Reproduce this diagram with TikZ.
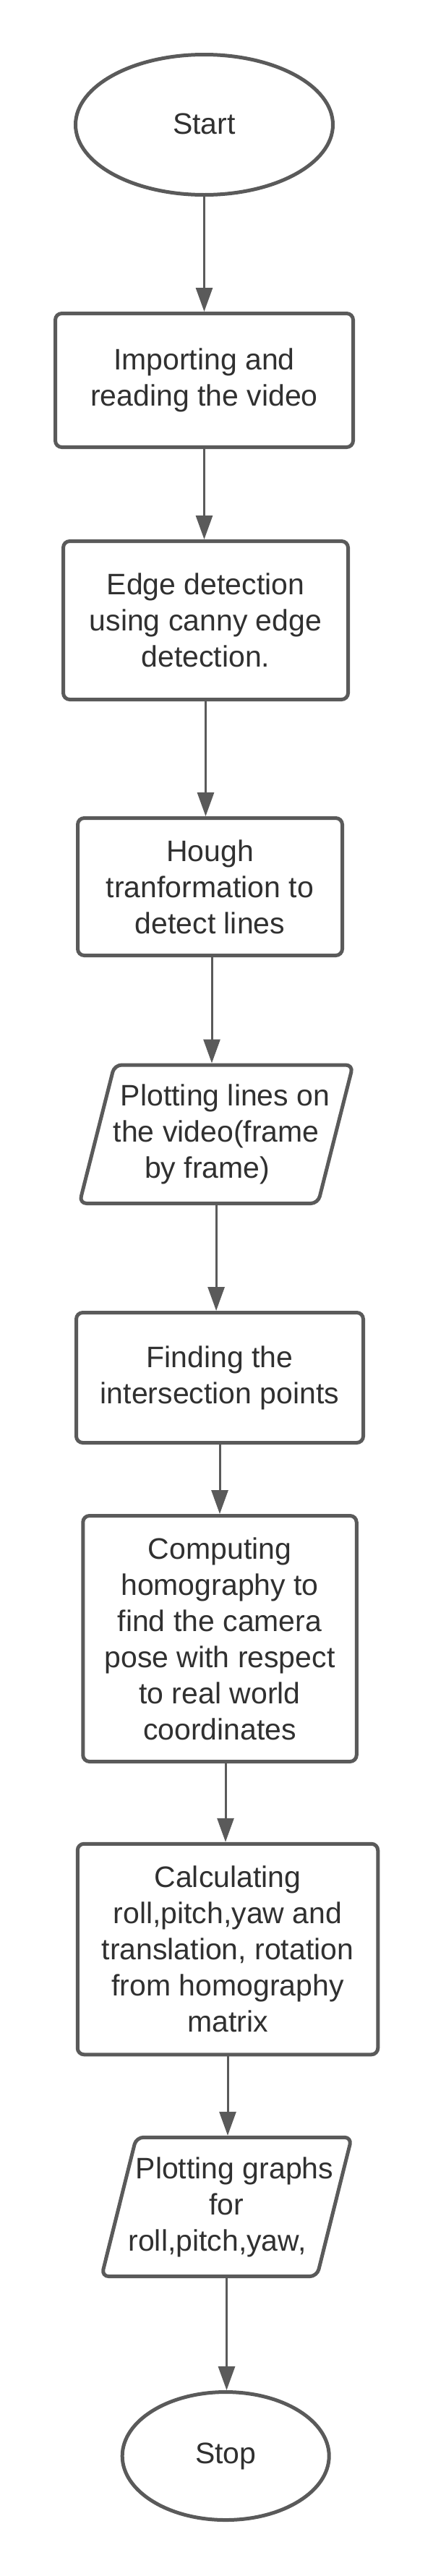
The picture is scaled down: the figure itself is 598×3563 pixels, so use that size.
\documentclass[tikz,border=0pt]{standalone}
\usepackage{fontspec}
\setmainfont{Liberation Sans}
\usetikzlibrary{arrows.meta,shapes.geometric,calc}
\definecolor{linegray}{HTML}{5A5A5A}
\definecolor{txtgray}{HTML}{303030}
\begin{document}
\begin{tikzpicture}[x=1pt,y=-1pt,
  base/.style={draw=linegray, line width=5pt, text=txtgray, align=center, inner sep=0pt,
    font=\fontsize{41}{50}\selectfont},
  procbox/.style={base, rectangle, rounded corners=9pt},
  term/.style={base, ellipse},
  iotext/.style={rectangle, text=txtgray, align=center, inner sep=0pt, outer sep=2.5pt,
    font=\fontsize{41}{50}\selectfont},
  paraline/.style={draw=linegray, line width=5pt, rounded corners=10pt, line join=round},
  arr/.style={draw=linegray, line width=3pt, -{Triangle[length=33pt,width=23pt]}}]
\useasboundingbox (0,0) rectangle (598,3563);
\fill[white] (0,0) rectangle (598,3563);

% Start
\node[term, minimum width=356pt, minimum height=194pt] (start) at (282.5,172.5) {\raisebox{3pt}{Start}};

% Box 1
\node[procbox, minimum width=412pt, minimum height=185pt] (box1) at (282.5,526)
  {Importing and\\reading the video};

% Box 2
\node[procbox, minimum width=394pt, minimum height=219pt] (box2) at (284.5,858)
  {Edge detection\\using canny edge\\detection.};

% Box 3
\node[procbox, minimum width=366pt, minimum height=190pt] (box3) at (290.5,1226.5)
  {Hough\\tranformation to\\detect lines};

% Parallelogram 1 (cx=299.1, cy=1568.75, hw=165, hh=95.75, s=48.5)
\draw[paraline] (299.1-165+24.25,1568.75-95.75) -- (299.1+165+24.25,1568.75-95.75)
  -- (299.1+165-24.25,1568.75+95.75) -- (299.1-165-24.25,1568.75+95.75) -- cycle;
\node[iotext, minimum width=330pt, minimum height=191.5pt] (para1) at (299.1,1568.75)
  {\hspace*{25pt}Plotting lines on\\the video(frame\\by frame)\hspace*{25pt}};

% Box 4
\node[procbox, minimum width=397pt, minimum height=180pt] (box4) at (304,1905.5)
  {Finding the\\intersection points};

% Box 5
\node[procbox, minimum width=378.5pt, minimum height=340pt] (box5) at (304,2266.5)
  {Computing\\homography to\\find the camera\\pose with respect\\to real world\\coordinates};

% Box 6
\node[procbox, minimum width=415.5pt, minimum height=291.5pt] (box6) at (315,2696)
  {Calculating\\roll,pitch,yaw and\\translation, rotation\\from homography\\matrix};

% Parallelogram 2 (cx=313.5, cy=3052.4, hw=149, hh=96.15, s=48)
\draw[paraline] (313.5-149+24,3052.4-96.15) -- (313.5+149+24,3052.4-96.15)
  -- (313.5+149-24,3052.4+96.15) -- (313.5-149-24,3052.4+96.15) -- cycle;
\node[iotext, minimum width=298pt, minimum height=192.3pt] (para2) at (313.5,3052.4)
  {\hspace*{22pt}Plotting graphs\\for\\roll,pitch,yaw,\hspace*{26pt}};

% Stop
\node[term, minimum width=286pt, minimum height=177pt] (stop) at (312.2,3397) {\raisebox{3pt}{Stop}};

% Connectors
\draw[arr] (start.south) -- (start.south |- box1.north);
\draw[arr] (box1.south) -- (box1.south |- box2.north);
\draw[arr] (box2.south) -- (box2.south |- box3.north);
\draw[arr] ([xshift=2.5pt]box3.south) -- ([xshift=2.5pt]box3.south |- para1.north);
\draw[arr] (para1.south) -- (para1.south |- box4.north);
\draw[arr] (box4.south) -- (box4.south |- box5.north);
\draw[arr] ([xshift=8pt]box5.south) -- ([xshift=8pt]box5.south |- box6.north);
\draw[arr] (box6.south) -- (box6.south |- para2.north);
\draw[arr] (para2.south) -- (para2.south |- stop.north);
\end{tikzpicture}
\end{document}
